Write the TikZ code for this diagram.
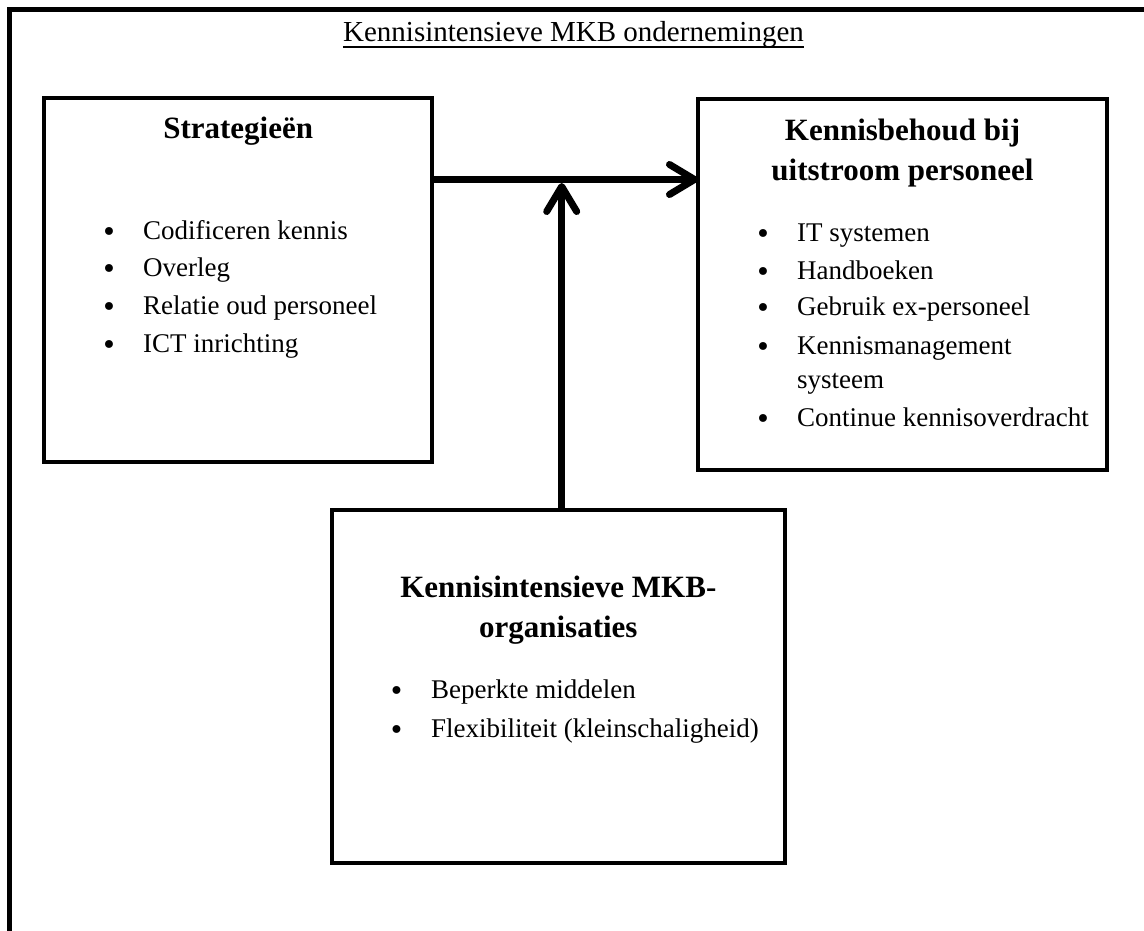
\documentclass[tikz,border=0pt]{standalone}
\usepackage{fontspec}
\setmainfont{Liberation Serif}
\newfontfamily\bulfont{DejaVu Sans}
\usetikzlibrary{arrows.meta}
\begin{document}
\begin{tikzpicture}[x=1pt,y=-1pt,
 box/.style={draw, line width=4pt, inner sep=0pt, outer sep=0pt},
 hd/.style={font=\fontsize{31}{40}\selectfont\bfseries, inner sep=0pt, anchor=base},
 itm/.style={font=\fontsize{27}{37.5}\selectfont, inner sep=0pt, anchor=base west},
 bul/.style={font=\bulfont\fontsize{27}{30}\selectfont, inner sep=0pt, anchor=base, yshift=-2pt},
 conn/.style={line width=7pt, -{Straight Barb[length=25pt,width=30pt,round]}}]
\useasboundingbox (0,0) rectangle (1144,930);
% outer frame (only top and left edges visible)
\draw[line width=5pt] (9.2,940) -- (9.2,9.5) -- (1150,9.5);
% title
\node[font=\fontsize{29}{35}\selectfont, inner sep=0pt, anchor=base] (title) at (573.5,41.7) {Kennisintensieve MKB ondernemingen};
\draw[line width=2pt] ([yshift=-5pt]title.base west) -- ([yshift=-5pt]title.base east);
% boxes
\node[box, minimum width=387.5pt, minimum height=363.5pt] (strat) at (238.2,280.2) {};
\node[box, minimum width=409pt, minimum height=371.5pt] (ret) at (902.5,284.3) {};
\node[box, minimum width=452.7pt, minimum height=352.4pt] (bot) at (558.3,686.5) {};
% Strategieen
\node[hd] (h1) at (238.2,138) {Strategieën};
\node[bul] (b11) at (109,239.3) {•};
\node[itm] (t11) at (143,239.3) {Codificeren kennis};
\node[bul] (b12) at (109,276.7) {•};
\node[itm] (t12) at (143,276.7) {Overleg};
\node[bul] (b13) at (109,314.3) {•};
\node[itm] (t13) at (143,314.3) {Relatie oud personeel};
\node[bul] (b14) at (109,352.7) {•};
\node[itm] (t14) at (143,352.7) {ICT inrichting};
% Kennisbehoud
\node[hd] (h2a) at (902.5,140) {Kennisbehoud bij};
\node[hd] (h2b) at (902.5,180) {uitstroom personeel};
\node[bul] (b21) at (763,241) {•};
\node[itm] (t21) at (797,241) {IT systemen};
\node[bul] (b22) at (763,279) {•};
\node[itm] (t22) at (797,279) {Handboeken};
\node[bul] (b23) at (763,315.7) {•};
\node[itm] (t23) at (797,315.7) {Gebruik ex-personeel};
\node[bul] (b24) at (763,354) {•};
\node[itm] (t24) at (797,354) {Kennismanagement};
\node[itm] (t24b) at (797,388.5) {systeem};
\node[bul] (b25) at (763,426.7) {•};
\node[itm] (t25) at (797,426.7) {Continue kennisoverdracht};
% Bottom box
\node[hd] (h3a) at (558.3,597.5) {Kennisintensieve MKB-};
\node[hd] (h3b) at (558.3,637) {organisaties};
\node[bul] (b31) at (396.7,698) {•};
\node[itm] (t31) at (431,698) {Beperkte middelen};
\node[bul] (b32) at (396.7,737) {•};
\node[itm] (t32) at (431,737) {Flexibiliteit (kleinschaligheid)};
% connectors
\coordinate (hy) at (0,179.5);
\coordinate (vt) at (561.7,183);
\draw[conn] (strat.east |- hy) -- (ret.west |- hy);
\draw[conn] (bot.north -| vt) -- (vt);
\end{tikzpicture}
\end{document}
